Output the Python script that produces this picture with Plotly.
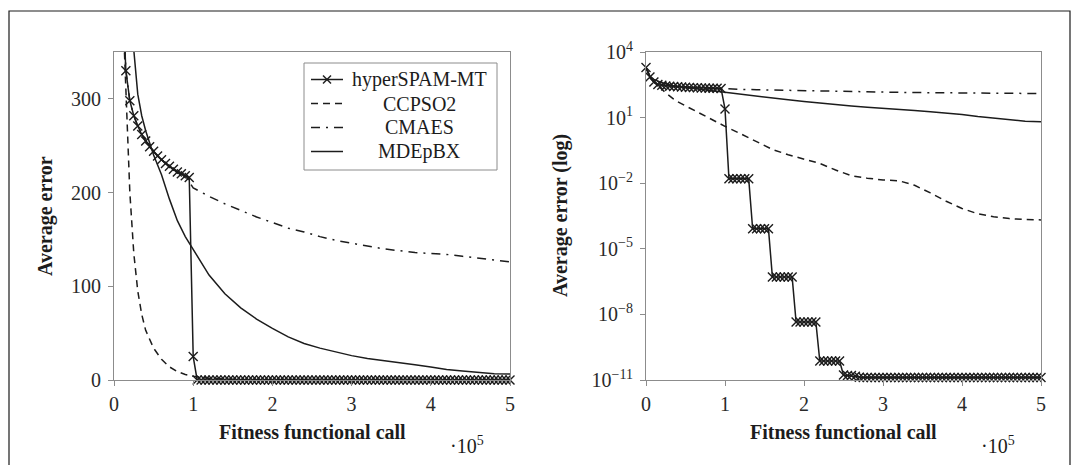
import plotly.graph_objects as go

# ---------------- data (x in units of 10^5 fitness evaluations) ----------------
FE_HYPER = [
    0.00, 0.05, 0.10, 0.15, 0.20, 0.25, 0.30, 0.35, 0.40, 0.45,
    0.50, 0.55, 0.60, 0.65, 0.70, 0.75, 0.80, 0.85, 0.90, 0.95,
    1.00, 1.05, 1.10, 1.15, 1.20, 1.25, 1.30, 1.35, 1.40, 1.45,
    1.50, 1.55, 1.60, 1.65, 1.70, 1.75, 1.80, 1.85, 1.90, 1.95,
    2.00, 2.05, 2.10, 2.15, 2.20, 2.25, 2.30, 2.35, 2.40, 2.45,
    2.50, 2.55, 2.60, 2.65, 2.70, 2.75, 2.80, 2.85, 2.90, 2.95,
    3.00, 3.05, 3.10, 3.15, 3.20, 3.25, 3.30, 3.35, 3.40, 3.45,
    3.50, 3.55, 3.60, 3.65, 3.70, 3.75, 3.80, 3.85, 3.90, 3.95,
    4.00, 4.05, 4.10, 4.15, 4.20, 4.25, 4.30, 4.35, 4.40, 4.45,
    4.50, 4.55, 4.60, 4.65, 4.70, 4.75, 4.80, 4.85, 4.90, 4.95,
    5.00,
]
HYPERSPAM_MT = [
    1950, 720, 425, 330, 298, 282, 271, 262, 255, 249,
    244, 239, 235, 231, 228, 225, 222, 220, 218, 216,
    25, 0.016, 0.016, 0.016, 0.016, 0.016, 0.016, 8.3e-5, 8.3e-5, 8.3e-5,
    8.3e-5, 8.3e-5, 5.1e-7, 5.1e-7, 5.1e-7, 5.1e-7, 5.1e-7, 5.1e-7, 4.5e-9, 4.5e-9,
    4.5e-9, 4.5e-9, 4.5e-9, 4.5e-9, 7.4e-11, 7.4e-11, 7.4e-11, 7.4e-11, 7.4e-11, 7.4e-11,
    1.7e-11, 1.6e-11, 1.6e-11, 1.5e-11, 1.35e-11, 1.3e-11, 1.3e-11, 1.3e-11, 1.3e-11, 1.3e-11,
    1.3e-11, 1.3e-11, 1.3e-11, 1.3e-11, 1.3e-11, 1.3e-11, 1.3e-11, 1.3e-11, 1.3e-11, 1.3e-11,
    1.3e-11, 1.3e-11, 1.3e-11, 1.3e-11, 1.3e-11, 1.3e-11, 1.3e-11, 1.3e-11, 1.3e-11, 1.3e-11,
    1.3e-11, 1.3e-11, 1.3e-11, 1.3e-11, 1.3e-11, 1.3e-11, 1.3e-11, 1.3e-11, 1.3e-11, 1.3e-11,
    1.3e-11, 1.3e-11, 1.3e-11, 1.3e-11, 1.3e-11, 1.3e-11, 1.3e-11, 1.3e-11, 1.3e-11, 1.3e-11,
    1.3e-11,
]

FE_OTHER = [
    0.00, 0.05, 0.10, 0.15, 0.20, 0.25, 0.30, 0.35, 0.40, 0.50,
    0.60, 0.70, 0.80, 0.90, 1.00, 1.20, 1.40, 1.60, 1.80, 2.00,
    2.20, 2.40, 2.60, 2.80, 3.00, 3.20, 3.40, 3.60, 3.80, 4.00,
    4.20, 4.40, 4.60, 4.80, 5.00,
]
CCPSO2 = [
    1950, 700, 420, 300, 200, 135, 95, 70, 53, 34,
    22, 14, 9, 5.8, 4, 1.8, 0.8, 0.35, 0.2, 0.13,
    0.08, 0.04, 0.022, 0.017, 0.014, 0.013, 0.008, 0.0036, 0.0015, 7e-4,
    4e-4, 2.9e-4, 2.4e-4, 2.2e-4, 2.1e-4,
]
CMAES = [
    1950, 720, 425, 330, 298, 282, 271, 262, 255, 244,
    235, 228, 222, 218, 205, 196, 188, 181, 174, 168,
    162, 158, 153, 149, 146, 143, 140, 138, 136, 135,
    134, 132, 130, 128, 126,
]
MDEPBX = [
    1950, 800, 560, 450, 390, 352, 305, 282, 266, 240,
    219, 193, 170, 153, 139, 112, 92, 77, 65, 55,
    46, 39, 34, 30, 26, 23, 21, 18.5, 16.3, 13.8,
    11.2, 9.5, 7.8, 6.8, 6.4,
]

X_TICKVALS = [0, 1, 2, 3, 4, 5]
X_TICKTEXT = ["0", "1", "2", "3", "4", "5"]
LIN_TICKVALS = [0, 100, 200, 300]
LOG_TICKVALS = [1e4, 1e1, 1e-2, 1e-5, 1e-8, 1e-11]
LOG_TICKTEXT = ["10<sup>4</sup>", "10<sup>1</sup>", "10<sup>\u22122</sup>",
                "10<sup>\u22125</sup>", "10<sup>\u22128</sup>", "10<sup>\u221211</sup>"]

NAMES = ["hyperSPAM-MT", "CCPSO2", "CMAES", "MDEpBX"]

# ---------------- layout geometry ----------------
W, H = 1078, 465
INK = "#1c1c1c"
FRAME = "#8c8c8c"
SERIF = "Liberation Serif, Times New Roman, serif"
LW = 1.5
DASHES = ["solid", "7px,5px", "9px,6px,2px,6px", "solid"]


def fx(p):
    return p / W


def fy(p):
    return 1 - p / H


fig = go.Figure()

series = [
    (FE_HYPER, HYPERSPAM_MT, True),
    (FE_OTHER, CCPSO2, False),
    (FE_OTHER, CMAES, False),
    (FE_OTHER, MDEPBX, False),
]

for sub, (xa, ya) in enumerate([("x", "y"), ("x2", "y2")]):
    for i, (xs, ys, markers) in enumerate(series):
        fig.add_trace(go.Scatter(
            x=xs, y=ys, xaxis=xa, yaxis=ya,
            mode="lines+markers" if markers else "lines",
            name=NAMES[i],
            showlegend=False,
            line=dict(color=INK, width=LW, dash=DASHES[i]),
            marker=dict(symbol="x-thin", size=9, color=INK,
                        line=dict(color=INK, width=1.4)) if markers else None,
            cliponaxis=False if markers else True,
            hoverinfo="skip",
        ))

axis_common = dict(
    showline=True, linecolor=FRAME, linewidth=1, mirror=True,
    ticks="outside", ticklen=5, tickwidth=1, tickcolor=FRAME,
    showgrid=False, zeroline=False, automargin=False,
    tickfont=dict(family=SERIF, size=20, color="#2a2a2a"),
)

fig.update_layout(
    width=W, height=H,
    margin=dict(l=0, r=0, t=0, b=0),
    paper_bgcolor="white", plot_bgcolor="white",
    font=dict(family=SERIF, size=20, color=INK),
    showlegend=False,
    xaxis=dict(domain=[fx(114), fx(510)], range=[0, 5], anchor="y",
               tickvals=X_TICKVALS, ticktext=X_TICKTEXT, ticklabelstandoff=1,
               **axis_common),
    yaxis=dict(domain=[fy(380), fy(52)], range=[0, 350], anchor="x",
               tickvals=LIN_TICKVALS, ticklabelstandoff=3, **axis_common),
    xaxis2=dict(domain=[fx(646), fx(1041)], range=[0, 5], anchor="y2",
                tickvals=X_TICKVALS, ticktext=X_TICKTEXT, ticklabelstandoff=1,
                **axis_common),
    yaxis2=dict(domain=[fy(380), fy(52)], type="log", range=[-11, 4], anchor="x2",
                tickvals=LOG_TICKVALS, ticktext=LOG_TICKTEXT, ticklabelstandoff=3,
                **axis_common),
)

ann = []
for cx, label in [(45, "Average error"), (560, "Average error (log)")]:
    ann.append(dict(x=fx(cx), y=fy(216), xref="paper", yref="paper",
                    text="<b>" + label + "</b>", textangle=-90, showarrow=False,
                    xanchor="center", yanchor="middle",
                    font=dict(family=SERIF, size=20, color=INK)))
for cx in [312, 843.5]:
    ann.append(dict(x=fx(cx), y=fy(432), xref="paper", yref="paper",
                    text="<b>Fitness functional call</b>", showarrow=False,
                    xanchor="center", yanchor="middle",
                    font=dict(family=SERIF, size=20, color=INK)))
for rx in [486, 1017]:
    ann.append(dict(x=fx(rx), y=fy(445), xref="paper", yref="paper",
                    text="\u00b710<sup>5</sup>", showarrow=False,
                    xanchor="right", yanchor="middle",
                    font=dict(family=SERIF, size=20, color=INK)))

# ---------------- legend (drawn in the left panel, centred labels) ----------------
LEG_X0, LEG_X1, LEG_Y0, LEG_Y1 = 304, 497, 63, 170
ROW_Y = [79.5, 103.5, 127.5, 151.5]
SAMPLE_X0, SAMPLE_X1, TEXT_CX = 311, 343, 419

fig.add_shape(type="rect", xref="paper", yref="paper",
              x0=fx(LEG_X0), x1=fx(LEG_X1), y0=fy(LEG_Y1), y1=fy(LEG_Y0),
              line=dict(color=FRAME, width=1), fillcolor="white", layer="above")
for i, name in enumerate(NAMES):
    ry = ROW_Y[i]
    fig.add_shape(type="line", xref="paper", yref="paper",
                  x0=fx(SAMPLE_X0), x1=fx(SAMPLE_X1), y0=fy(ry), y1=fy(ry),
                  line=dict(color=INK, width=LW, dash=DASHES[i]), layer="above")
    ann.append(dict(x=fx(TEXT_CX), y=fy(ry), xref="paper", yref="paper",
                    text=name, showarrow=False, xanchor="center", yanchor="middle",
                    font=dict(family=SERIF, size=20, color=INK)))
# cross marker on the hyperSPAM-MT legend sample
mx, my, h = (SAMPLE_X0 + SAMPLE_X1) / 2, ROW_Y[0], 4
for (ax0, ay0, ax1, ay1) in [(mx - h, my - h, mx + h, my + h), (mx - h, my + h, mx + h, my - h)]:
    fig.add_shape(type="line", xref="paper", yref="paper",
                  x0=fx(ax0), x1=fx(ax1), y0=fy(ay0), y1=fy(ay1),
                  line=dict(color=INK, width=1.4), layer="above")

fig.update_layout(annotations=ann)

# outer frame of the figure
fig.add_shape(type="rect", xref="paper", yref="paper",
              x0=fx(9), x1=fx(1070), y0=fy(472), y1=fy(11),
              line=dict(color=INK, width=1.2), fillcolor="rgba(0,0,0,0)", layer="above")

fig.write_html(
    "out.html",
    config={"displayModeBar": False, "staticPlot": True},
    post_script="document.body.style.margin='0';document.body.style.overflow='hidden';",
)
